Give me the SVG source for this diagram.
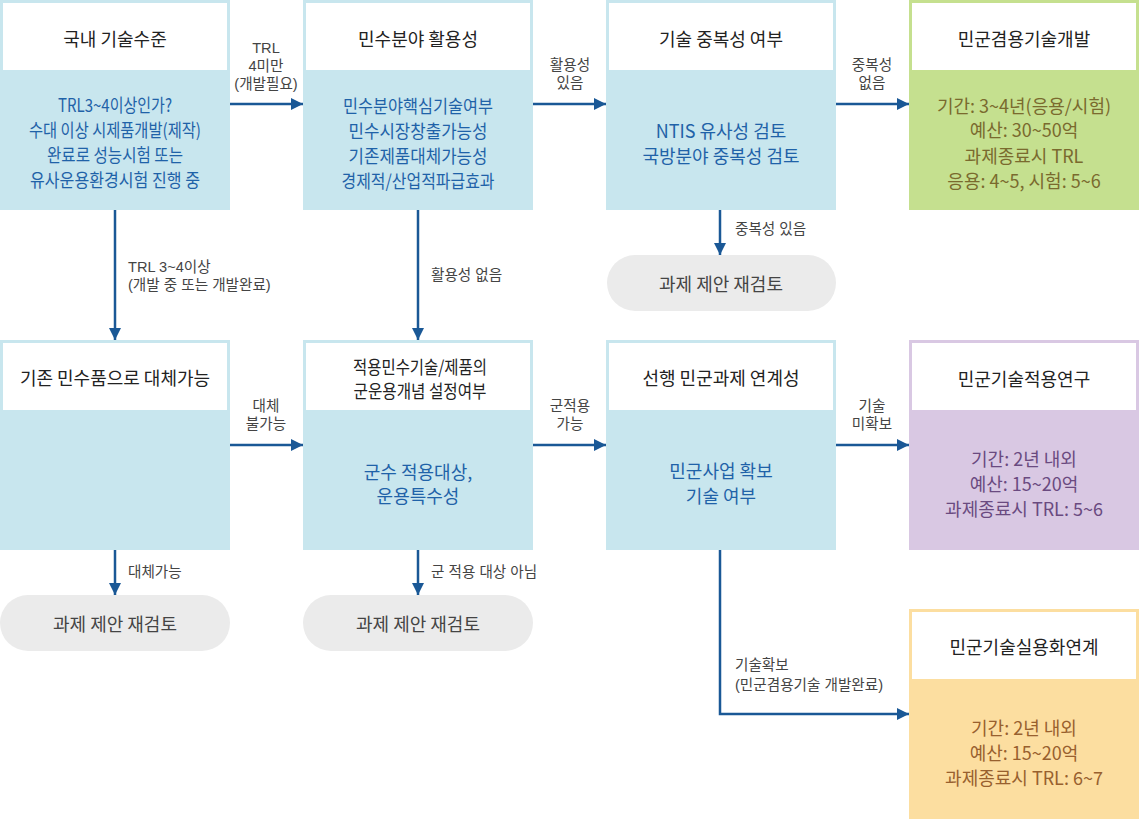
<svg xmlns="http://www.w3.org/2000/svg" width="1139" height="819" viewBox="0 0 1139 819">
<defs>
<style>
text{font-family:"Noto Sans CJK KR","Noto Sans",sans-serif;}
.hd{fill:#ffffff;}
.ti{font-size:18px;fill:#222;text-anchor:middle;dominant-baseline:central;}
.bb{font-size:18px;fill:#1f62a8;text-anchor:middle;dominant-baseline:central;}
.gt{font-size:18px;fill:#7a6a2e;text-anchor:middle;dominant-baseline:central;}
.pt{font-size:18px;fill:#6a4a80;text-anchor:middle;dominant-baseline:central;}
.ot{font-size:18px;fill:#98602e;text-anchor:middle;dominant-baseline:central;}
text.lb{font-family:"Liberation Sans","Noto Sans CJK KR",sans-serif;font-size:14.6px;fill:#444;dominant-baseline:central;}
.lc{text-anchor:middle;}
.pill{fill:#ebebeb;}
.pl{font-size:18px;fill:#444;text-anchor:middle;dominant-baseline:central;}
.cn{fill:none;stroke:#1a5896;stroke-width:2.5;}
</style>
<marker id="ah" viewBox="0 0 10 10" refX="10" refY="5" markerWidth="5" markerHeight="5" markerUnits="strokeWidth" orient="auto">
<path d="M0,0 L10,5 L0,10 z" fill="#1a5896"/>
</marker>
</defs>

<g id="connectors">
<line class="cn" x1="230" y1="104" x2="303" y2="104" marker-end="url(#ah)"/>
<line class="cn" x1="533" y1="104" x2="606" y2="104" marker-end="url(#ah)"/>
<line class="cn" x1="836" y1="104" x2="909" y2="104" marker-end="url(#ah)"/>
<line class="cn" x1="115" y1="210" x2="115" y2="340" marker-end="url(#ah)"/>
<line class="cn" x1="418" y1="210" x2="418" y2="340" marker-end="url(#ah)"/>
<line class="cn" x1="720" y1="210" x2="720" y2="255" marker-end="url(#ah)"/>
<line class="cn" x1="230" y1="445" x2="303" y2="445" marker-end="url(#ah)"/>
<line class="cn" x1="533" y1="445" x2="606" y2="445" marker-end="url(#ah)"/>
<line class="cn" x1="836" y1="445" x2="909" y2="445" marker-end="url(#ah)"/>
<line class="cn" x1="115" y1="550" x2="115" y2="595" marker-end="url(#ah)"/>
<line class="cn" x1="418" y1="550" x2="418" y2="595" marker-end="url(#ah)"/>
<polyline class="cn" points="720,550 720,714 909,714" marker-end="url(#ah)"/>
<text class="lb lc" x="266" y="48">TRL</text>
<text class="lb lc" x="266" y="66">4미만</text>
<text class="lb lc" x="266" y="84">(개발필요)</text>
<text class="lb lc" x="570" y="65">활용성</text>
<text class="lb lc" x="570" y="83">있음</text>
<text class="lb lc" x="872" y="65">중복성</text>
<text class="lb lc" x="872" y="83">없음</text>
<text class="lb" x="128" y="267">TRL 3~4이상</text>
<text class="lb" x="128" y="285">(개발 중 또는 개발완료)</text>
<text class="lb" x="431" y="275">활용성 없음</text>
<text class="lb" x="735" y="229">중복성 있음</text>
<text class="lb lc" x="266" y="406">대체</text>
<text class="lb lc" x="266" y="424">불가능</text>
<text class="lb lc" x="570" y="406">군적용</text>
<text class="lb lc" x="570" y="424">가능</text>
<text class="lb lc" x="872" y="406">기술</text>
<text class="lb lc" x="872" y="424">미확보</text>
<text class="lb" x="128" y="572">대체가능</text>
<text class="lb" x="431" y="572">군 적용 대상 아님</text>
<text class="lb" x="735" y="665">기술확보</text>
<text class="lb" x="735" y="685">(민군겸용기술 개발완료)</text>
</g>

<g id="n-domestic">
<rect x="0" y="0" width="230" height="210" fill="#c8e6ee"/>
<rect class="hd" x="3" y="3" width="224" height="67"/>
<text class="ti" x="115" y="38">국내 기술수준</text>
<text class="bb" x="115" y="104" textLength="114" lengthAdjust="spacingAndGlyphs">TRL3~4이상인가?</text>
<text class="bb" x="115" y="129" textLength="172" lengthAdjust="spacingAndGlyphs">수대 이상 시제품개발(제작)</text>
<text class="bb" x="115" y="154" textLength="136" lengthAdjust="spacingAndGlyphs">완료로 성능시험 또는</text>
<text class="bb" x="115" y="179" textLength="170" lengthAdjust="spacingAndGlyphs">유사운용환경시험 진행 중</text>
</g>

<g id="n-civil-use">
<rect x="303" y="0" width="230" height="210" fill="#c8e6ee"/>
<rect class="hd" x="306" y="3" width="224" height="67"/>
<text class="ti" x="418" y="38">민수분야 활용성</text>
<text class="bb" x="418" y="105" textLength="150" lengthAdjust="spacingAndGlyphs">민수분야핵심기술여부</text>
<text class="bb" x="418" y="130" textLength="139" lengthAdjust="spacingAndGlyphs">민수시장창출가능성</text>
<text class="bb" x="418" y="155" textLength="139" lengthAdjust="spacingAndGlyphs">기존제품대체가능성</text>
<text class="bb" x="418" y="180" textLength="153" lengthAdjust="spacingAndGlyphs">경제적/산업적파급효과</text>
</g>

<g id="n-overlap">
<rect x="606" y="0" width="230" height="210" fill="#c8e6ee"/>
<rect class="hd" x="609" y="3" width="224" height="67"/>
<text class="ti" x="721" y="38">기술 중복성 여부</text>
<text class="bb" x="721" y="130">NTIS 유사성 검토</text>
<text class="bb" x="721" y="155">국방분야 중복성 검토</text>
</g>

<g id="n-dual-dev">
<rect x="909" y="0" width="230" height="210" fill="#c5e08f"/>
<rect class="hd" x="912" y="3" width="224" height="67"/>
<text class="ti" x="1024" y="38">민군겸용기술개발</text>
<text class="gt" x="1024" y="105">기간: 3~4년(응용/시험)</text>
<text class="gt" x="1024" y="129">예산: 30~50억</text>
<text class="gt" x="1024" y="155">과제종료시 TRL</text>
<text class="gt" x="1024" y="180">응용: 4~5, 시험: 5~6</text>
</g>

<g id="n-review-1">
<rect class="pill" x="607" y="255" width="229" height="56" rx="28"/>
<text class="pl" x="721" y="283">과제 제안 재검토</text>
</g>

<g id="n-replace">
<rect x="0" y="340" width="230" height="210" fill="#c8e6ee"/>
<rect class="hd" x="3" y="343" width="224" height="67"/>
<text class="ti" x="115" y="377">기존 민수품으로 대체가능</text>
</g>

<g id="n-military">
<rect x="303" y="340" width="230" height="210" fill="#c8e6ee"/>
<rect class="hd" x="306" y="343" width="224" height="67"/>
<text class="ti" x="420" y="366" textLength="134" lengthAdjust="spacingAndGlyphs">적용민수기술/제품의</text>
<text class="ti" x="420" y="390" textLength="133" lengthAdjust="spacingAndGlyphs">군운용개념 설정여부</text>
<text class="bb" x="418" y="471">군수 적용대상,</text>
<text class="bb" x="418" y="495">운용특수성</text>
</g>

<g id="n-prior">
<rect x="606" y="340" width="230" height="210" fill="#c8e6ee"/>
<rect class="hd" x="609" y="343" width="224" height="67"/>
<text class="ti" x="721" y="377">선행 민군과제 연계성</text>
<text class="bb" x="721" y="470">민군사업 확보</text>
<text class="bb" x="721" y="495">기술 여부</text>
</g>

<g id="n-apply-research">
<rect x="909" y="340" width="230" height="210" fill="#d9c8e3"/>
<rect class="hd" x="912" y="343" width="224" height="67"/>
<text class="ti" x="1024" y="378">민군기술적용연구</text>
<text class="pt" x="1024" y="458">기간: 2년 내외</text>
<text class="pt" x="1024" y="483">예산: 15~20억</text>
<text class="pt" x="1024" y="508">과제종료시 TRL: 5~6</text>
</g>

<g id="n-review-2">
<rect class="pill" x="0" y="595" width="230" height="56" rx="28"/>
<text class="pl" x="115" y="623">과제 제안 재검토</text>
</g>

<g id="n-review-3">
<rect class="pill" x="303" y="595" width="230" height="56" rx="28"/>
<text class="pl" x="418" y="623">과제 제안 재검토</text>
</g>

<g id="n-commercial">
<rect x="909" y="609" width="230" height="210" fill="#fcdea0"/>
<rect class="hd" x="912" y="612" width="224" height="67"/>
<text class="ti" x="1024" y="646">민군기술실용화연계</text>
<text class="ot" x="1024" y="727">기간: 2년 내외</text>
<text class="ot" x="1024" y="752">예산: 15~20억</text>
<text class="ot" x="1024" y="777">과제종료시 TRL: 6~7</text>
</g>
</svg>
